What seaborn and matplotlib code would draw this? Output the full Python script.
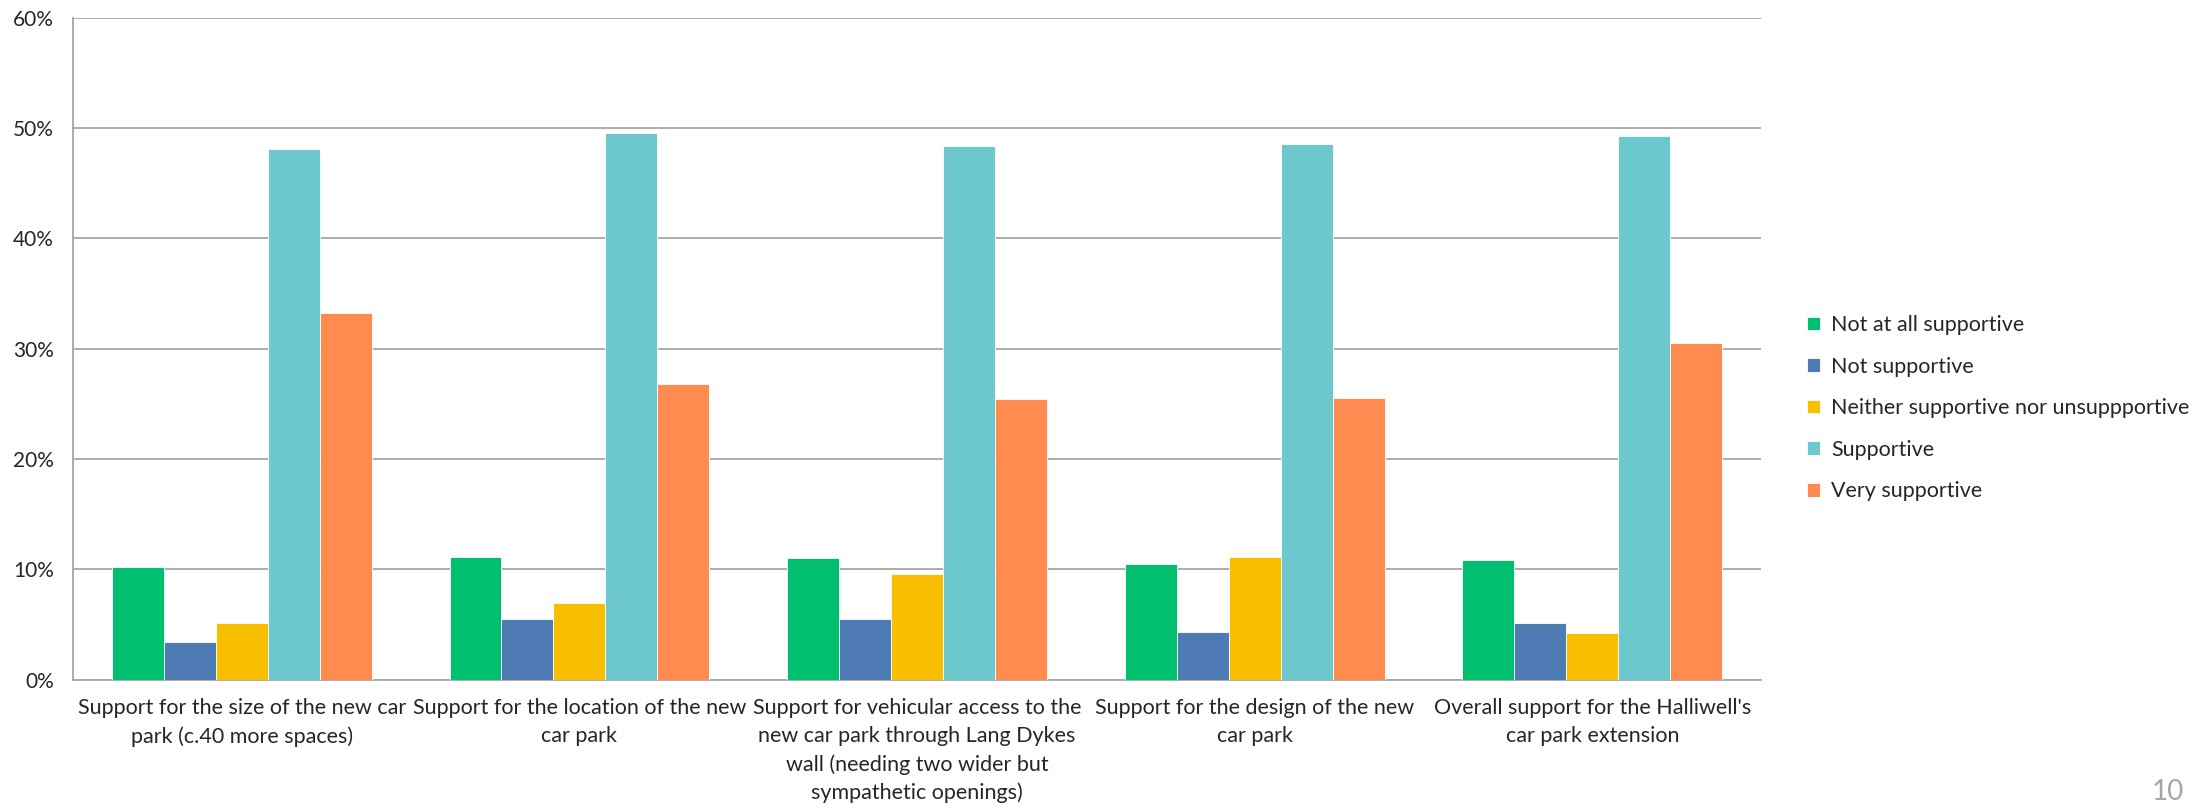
import pandas as pd
import matplotlib.pyplot as plt
import seaborn as sns
from matplotlib.ticker import PercentFormatter

# ===============================
# Chart data
# ===============================
questions = [
    "Support for the size of the new car\npark (c.40 more spaces)",
    "Support for the location of the new\ncar park",
    "Support for vehicular access to the\nnew car park through Lang Dykes\nwall (needing two wider but\nsympathetic openings)",
    "Support for the design of the new\ncar park",
    "Overall support for the Halliwell's\ncar park extension",
]
responses = ["Not at all supportive", "Not supportive",
             "Neither supportive nor unsuppportive", "Supportive", "Very supportive"]

not_at_all = [10.2, 11.1, 11.0, 10.5, 10.8]
not_supportive = [3.4, 5.5, 5.5, 4.3, 5.1]
neither = [5.1, 6.9, 9.6, 11.1, 4.2]
supportive = [48.1, 49.6, 48.4, 48.6, 49.3]
very_supportive = [33.2, 26.8, 25.4, 25.5, 30.5]

colors = ["#00BF6F", "#4F7BB5", "#F8BF00", "#6CC8CC", "#FF8B50"]

# ===============================
# Build long-form table
# ===============================
series = [not_at_all, not_supportive, neither, supportive, very_supportive]
rows = []
for resp, vals in zip(responses, series):
    for q, v in zip(questions, vals):
        rows.append({"question": q, "response": resp, "pct": v})
df = pd.DataFrame(rows)

# ===============================
# Plot
# ===============================
sns.set_style("white")
plt.rcParams['font.family'] = ['Lato', 'DejaVu Sans']

fig = plt.figure(figsize=(21.95, 8.09), dpi=100)
ax = fig.add_axes([0.0333, 0.16, 0.769, 0.818])

sns.barplot(data=df, x="question", y="pct", hue="response",
            hue_order=responses, order=questions, palette=colors,
            saturation=1, width=0.77, edgecolor="white", linewidth=0.6,
            ax=ax, zorder=3)

ax.set_ylim(0, 60)
ax.set_xlim(-0.5, 4.5)
ax.yaxis.set_major_formatter(PercentFormatter(decimals=0))
ax.set_yticks(range(0, 61, 10))
ax.grid(axis="y", color="#A6A6A6", linewidth=1.3, zorder=0)
ax.set_axisbelow(True)
ax.set_xlabel("")
ax.set_ylabel("")

for side in ["top", "right"]:
    ax.spines[side].set_visible(False)
for side in ["left", "bottom"]:
    ax.spines[side].set_color("#A6A6A6")
    ax.spines[side].set_linewidth(1.3)

ax.tick_params(axis="y", which="major", length=8, color="#A6A6A6",
               width=1.3, labelsize=15, pad=6)
ax.tick_params(axis="x", which="major", length=0, labelsize=15.5, pad=13)
ax.set_xticks([i + 0.5 for i in range(-1, 5)], minor=True)
ax.tick_params(axis="x", which="minor", length=8, color="#A6A6A6", width=1.3)
for lbl in ax.get_xticklabels():
    lbl.set_linespacing(1.5)

leg = ax.legend(loc="center left", bbox_to_anchor=(1.016, 0.41), frameon=False,
                fontsize=15.5, handlelength=0.6, handleheight=0.6,
                handletextpad=0.5, labelspacing=1.0)

fig.text(0.995, 0.005, "10", ha="right", va="bottom", fontsize=20, color="#A6A6A6")

plt.savefig("out.png", dpi=100)
plt.close()
